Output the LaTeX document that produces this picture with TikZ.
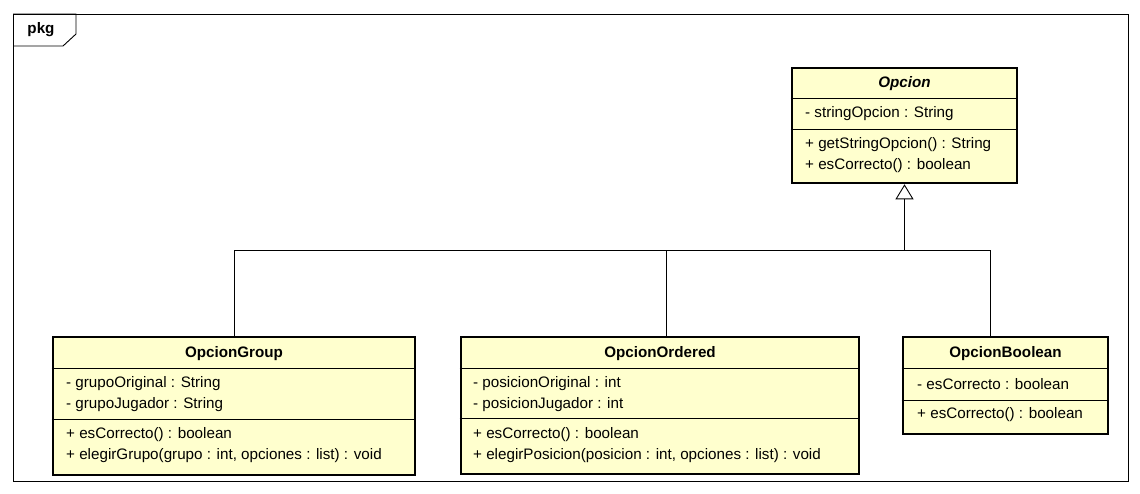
\documentclass[tikz,border=0pt]{standalone}
\usepackage{fontspec}
\setmainfont{Liberation Sans}
\usetikzlibrary{arrows.meta}
\definecolor{classfill}{RGB}{255,255,206}
\begin{document}
\begin{tikzpicture}[x=1pt,y=-1pt,
  font=\fontsize{15.2}{18}\selectfont,
  cls/.style={draw, line width=2.6pt, fill=classfill, rectangle, inner sep=0pt},
  txt/.style={anchor=west, inner sep=0pt},
  ttl/.style={inner sep=0pt, font=\fontsize{15.2}{18}\selectfont\bfseries},
  sep/.style={line width=0.8pt},
  conn/.style={line width=0.9pt}]
\useasboundingbox[fill=white] (0,0) rectangle (1140,493);
% frame
\draw[conn] (13,14) rectangle (1128,481);
\draw[conn] (13,14) -- (76,14) -- (76,34) -- (63,46) -- (13,46);
\node[ttl] (pkg) at (41,30) {pkg};
% Opcion
\node[cls, minimum width=225pt, minimum height=115pt] (op) at (904.5,125.5) {};
\draw[sep] (op.west |- 0,98) -- (op.east |- 0,98);
\draw[sep] (op.west |- 0,129) -- (op.east |- 0,129);
\node[ttl, font=\fontsize{15.2}{18}\selectfont\bfseries\itshape] (opn) at (op.north |- 0,84) {Opcion};
\node[txt] (opa) at (805,114) {- stringOpcion : String};
\node[txt] (opm1) at (805,145) {+ getStringOpcion() : String};
\node[txt] (opm2) at (805,166) {+ esCorrecto() : boolean};
% OpcionGroup
\node[cls, minimum width=362pt, minimum height=138pt] (g) at (234,406) {};
\draw[sep] (g.west |- 0,368) -- (g.east |- 0,368);
\draw[sep] (g.west |- 0,419) -- (g.east |- 0,419);
\node[ttl] (gn) at (g.north |- 0,354) {OpcionGroup};
\node[txt] (ga1) at (66,384) {- grupoOriginal : String};
\node[txt] (ga2) at (66,405) {- grupoJugador : String};
\node[txt] (gm1) at (66,435) {+ esCorrecto() : boolean};
\node[txt] (gm2) at (66,456) {+ elegirGrupo(grupo : int, opciones : list) : void};
% OpcionOrdered
\node[cls, minimum width=398pt, minimum height=137pt] (o) at (660,405.5) {};
\draw[sep] (o.west |- 0,368) -- (o.east |- 0,368);
\draw[sep] (o.west |- 0,418) -- (o.east |- 0,418);
\node[ttl] (on) at (o.north |- 0,354) {OpcionOrdered};
\node[txt] (oa1) at (473,384) {- posicionOriginal : int};
\node[txt] (oa2) at (473,405) {- posicionJugador : int};
\node[txt] (om1) at (473,435) {+ esCorrecto() : boolean};
\node[txt] (om2) at (473,456) {+ elegirPosicion(posicion : int, opciones : list) : void};
% OpcionBoolean
\node[cls, minimum width=205pt, minimum height=97pt] (b) at (1005.5,385.5) {};
\draw[sep] (b.west |- 0,368) -- (b.east |- 0,368);
\draw[sep] (b.west |- 0,400) -- (b.east |- 0,400);
\node[ttl] (bn) at (b.north |- 0,354) {OpcionBoolean};
\node[txt] (ba1) at (917,384) {- esCorrecto : boolean};
\node[txt] (bm1) at (917,415) {+ esCorrecto() : boolean};
% generalization
\coordinate (j) at (904.5,250);
\coordinate (oc) at (o.north -| 666,0);
\coordinate (bc) at (b.north -| 990,0);
\draw[conn] (g.north) |- (j);
\draw[conn] (oc) |- (j);
\draw[conn] (bc) |- (j);
\draw[line width=1.4pt, -{Triangle[open, length=15pt, width=18pt, line width=0.9pt]}] (j) -- (op.south);
\end{tikzpicture}
\end{document}
